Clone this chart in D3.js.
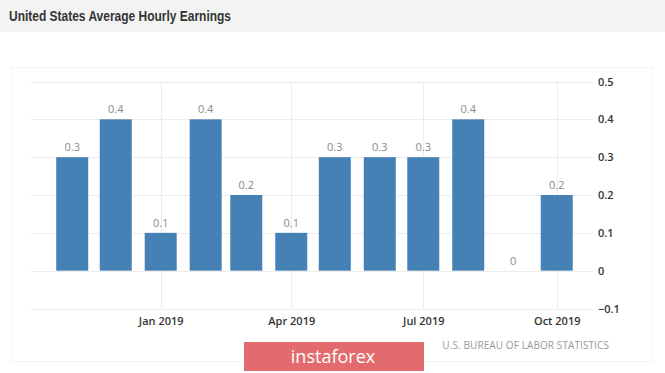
<!DOCTYPE html>
<html>
<head>
<meta charset="utf-8">
<script src="https://cdn.jsdelivr.net/npm/d3@7"></script>
<style>
  body { margin: 0; background: #fff; }
  svg { display: block; }
</style>
</head>
<body>
<div id="chart"></div>
<script>
// data
var months = ["2018-11", "2018-12", "2019-01", "2019-02", "2019-03", "2019-04",
              "2019-05", "2019-06", "2019-07", "2019-08", "2019-09", "2019-10"];
var values = [0.3, 0.4, 0.1, 0.4, 0.2, 0.1, 0.3, 0.3, 0.3, 0.4, 0, 0.2];
var yTicks = [-0.1, 0, 0.1, 0.2, 0.3, 0.4, 0.5];
var xTicks = ["2019-01", "2019-04", "2019-07", "2019-10"];

var W = 665, H = 373;
var parse = d3.timeParse("%Y-%m");

var data = months.map(function (m, i) {
    return {date: parse(m), value: values[i]};
});

var svg = d3.select("#chart")
    .append("svg")
    .attr("width", W)
    .attr("height", H);

// header band
svg.append("rect")
    .attr("x", 0).attr("y", 0)
    .attr("width", W).attr("height", 32)
    .attr("fill", "#f3f3f3");

svg.append("text")
    .attr("x", 9)
    .attr("y", 21)
    .attr("font-family", "Liberation Sans Narrow, Liberation Sans, Arial, sans-serif")
    .attr("font-weight", "bold")
    .attr("font-size", "15px")
    .attr("textLength", 222)
    .attr("lengthAdjust", "spacingAndGlyphs")
    .attr("fill", "#333")
    .text("United States Average Hourly Earnings");

// faint panel frame
svg.append("rect")
    .attr("x", 11.5).attr("y", 67.5)
    .attr("width", 641).attr("height", 294)
    .attr("fill", "none")
    .attr("stroke", "#f4f4f4");

// scales
var x = d3.scaleTime()
    .domain([new Date(2018, 9, 3, 14), new Date(2019, 9, 26)])
    .range([31, 593]);

var y = d3.scaleLinear()
    .domain([-0.1, 0.5])
    .range([308.5, 81.5]);

var barW = 32;

// horizontal grid
svg.append("g")
    .selectAll("line")
    .data(yTicks)
    .enter()
    .append("line")
    .attr("x1", 31)
    .attr("x2", 593)
    .attr("y1", function (d) { return Math.round(y(d)) + 0.5; })
    .attr("y2", function (d) { return Math.round(y(d)) + 0.5; })
    .attr("stroke", "#ececec");

// vertical grid
svg.append("g")
    .selectAll("line")
    .data(xTicks)
    .enter()
    .append("line")
    .attr("x1", function (d) { return Math.round(x(parse(d))) + 0.5; })
    .attr("x2", function (d) { return Math.round(x(parse(d))) + 0.5; })
    .attr("y1", y(0.5))
    .attr("y2", y(-0.1))
    .attr("stroke", "#ececec");

// y axis on the right, labels only
var yAxis = svg.append("g")
    .attr("transform", "translate(593,0)")
    .call(d3.axisRight(y)
        .tickValues(yTicks)
        .tickSize(0)
        .tickPadding(5)
        .tickFormat(function (d) { return d3.format("")(+d.toFixed(1)); }));
yAxis.select(".domain").remove();
yAxis.selectAll("text")
    .attr("font-family", "Open Sans, sans-serif")
    .attr("font-weight", "600")
    .attr("font-size", "11px")
    .attr("fill", "#333");

// x axis, labels only
var xAxis = svg.append("g")
    .attr("transform", "translate(0," + y(-0.1) + ")")
    .call(d3.axisBottom(x)
        .tickValues(xTicks.map(parse))
        .tickSize(0)
        .tickPadding(9)
        .tickFormat(d3.timeFormat("%b %Y")));
xAxis.select(".domain").remove();
xAxis.selectAll("text")
    .attr("font-family", "Open Sans, sans-serif")
    .attr("font-weight", "600")
    .attr("font-size", "11px")
    .attr("fill", "#333");

// bars
svg.append("g")
    .selectAll("rect")
    .data(data)
    .enter()
    .append("rect")
    .attr("x", function (d) { return x(d.date) - barW / 2; })
    .attr("y", function (d) { return y(d.value); })
    .attr("width", barW)
    .attr("height", function (d) { return y(0) - y(d.value); })
    .attr("fill", "#4681b6");

// value labels
svg.append("g")
    .selectAll("text")
    .data(data)
    .enter()
    .append("text")
    .attr("x", function (d) { return x(d.date); })
    .attr("y", function (d) { return y(d.value) - 6; })
    .attr("text-anchor", "middle")
    .attr("font-family", "Open Sans, sans-serif")
    .attr("font-size", "11px")
    .attr("fill", "#8a8a8a")
    .text(function (d) { return d.value; });

// source
svg.append("text")
    .attr("x", 609)
    .attr("y", 349)
    .attr("text-anchor", "end")
    .attr("font-family", "Open Sans, sans-serif")
    .attr("font-size", "10px")
    .attr("letter-spacing", "0.1px")
    .attr("fill", "#999")
    .text("U.S. BUREAU OF LABOR STATISTICS");

// watermark
svg.append("rect")
    .attr("x", 244).attr("y", 342)
    .attr("width", 180).attr("height", 29)
    .attr("fill", "#e46b6d");

svg.append("text")
    .attr("x", 333)
    .attr("y", 363)
    .attr("text-anchor", "middle")
    .attr("font-family", "Open Sans, sans-serif")
    .attr("font-size", "18px")
    .attr("fill", "#fff")
    .text("instaforex");
</script>
</body>
</html>
